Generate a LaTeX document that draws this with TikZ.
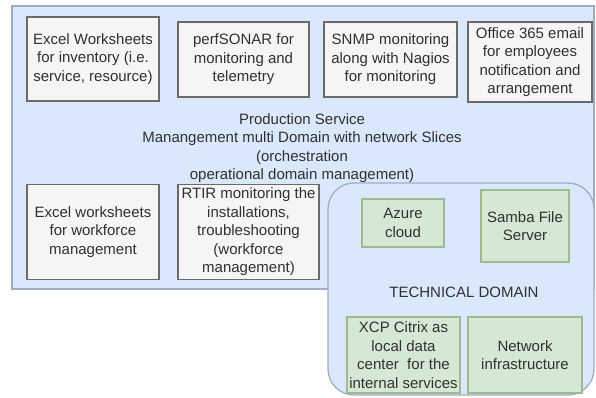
\documentclass[tikz,border=0pt]{standalone}
\usepackage{fontspec}
\setmainfont{Liberation Sans}
\definecolor{outerfill}{HTML}{DAE8FC}
\definecolor{outerdraw}{HTML}{A0AEC4}
\definecolor{grayfill}{HTML}{F5F5F5}
\definecolor{graydraw}{HTML}{6A6A6A}
\definecolor{greenfill}{HTML}{D5E8D4}
\definecolor{greendraw}{HTML}{9DBB90}
\definecolor{txt}{HTML}{303030}
\begin{document}
\begin{tikzpicture}[x=1pt,y=-1pt,
  every node/.style={font=\fontsize{15}{18.5}\selectfont, text=txt, align=center, inner sep=0pt},
  graybox/.style={draw=graydraw, fill=grayfill, line width=1.3pt, rectangle},
  greenbox/.style={draw=greendraw, fill=greenfill, line width=1.3pt, rectangle},
  areabox/.style={draw=outerdraw, fill=outerfill, line width=1.3pt}]
\useasboundingbox (0,0) rectangle (596,397);
% outer production area
\node[areabox, rectangle, minimum width=582pt, minimum height=283pt] (prod) at (303,147.5) {};
% technical domain
\node[areabox, rectangle, rounded corners=26pt, minimum width=266pt, minimum height=212pt] (tech) at (461,289) {};
% top row
\node[graybox, minimum width=132pt, minimum height=84pt] (b1) at (93,59) {Excel Worksheets\\for inventory (i.e.\\service, resource)};
\node[graybox, minimum width=131pt, minimum height=75pt] (b2) at (243.5,59.5) {perfSONAR for\\monitoring and\\telemetry};
\node[graybox, minimum width=133pt, minimum height=75pt] (b3) at (390.5,59.5) {SNMP monitoring\\along with Nagios\\for monitoring};
\node[graybox, minimum width=124pt, minimum height=80pt] (b4) at (530,62) {Office 365 email\\for employees\\notification and\\arrangement};
% production text
\node (ptext) at (302,148) {Production Service\\Manangement multi Domain with network Slices\\(orchestration\\operational domain management)};
% bottom row
\node[graybox, minimum width=132pt, minimum height=95pt] (b5) at (93,232) {Excel worksheets\\for workforce\\management};
\node[graybox, minimum width=141pt, minimum height=95pt] (b6) at (248.5,232) {RTIR monitoring the\\installations,\\troubleshooting\\(workforce\\management)};
% technical boxes
\node[greenbox, minimum width=82pt, minimum height=48pt] (azure) at (403,223) {Azure\\cloud};
\node[greenbox, minimum width=88pt, minimum height=72pt] (samba) at (525,226) {Samba File\\Server};
\node (ttext) at (464,292) {TECHNICAL DOMAIN};
\node[greenbox, minimum width=113pt, minimum height=76pt] (xcp) at (403.5,355) {XCP Citrix as\\local data\\center~ for the\\internal services};
\node[greenbox, minimum width=114pt, minimum height=76pt] (net) at (525,355) {Network\\infrastructure};
\end{tikzpicture}
\end{document}
